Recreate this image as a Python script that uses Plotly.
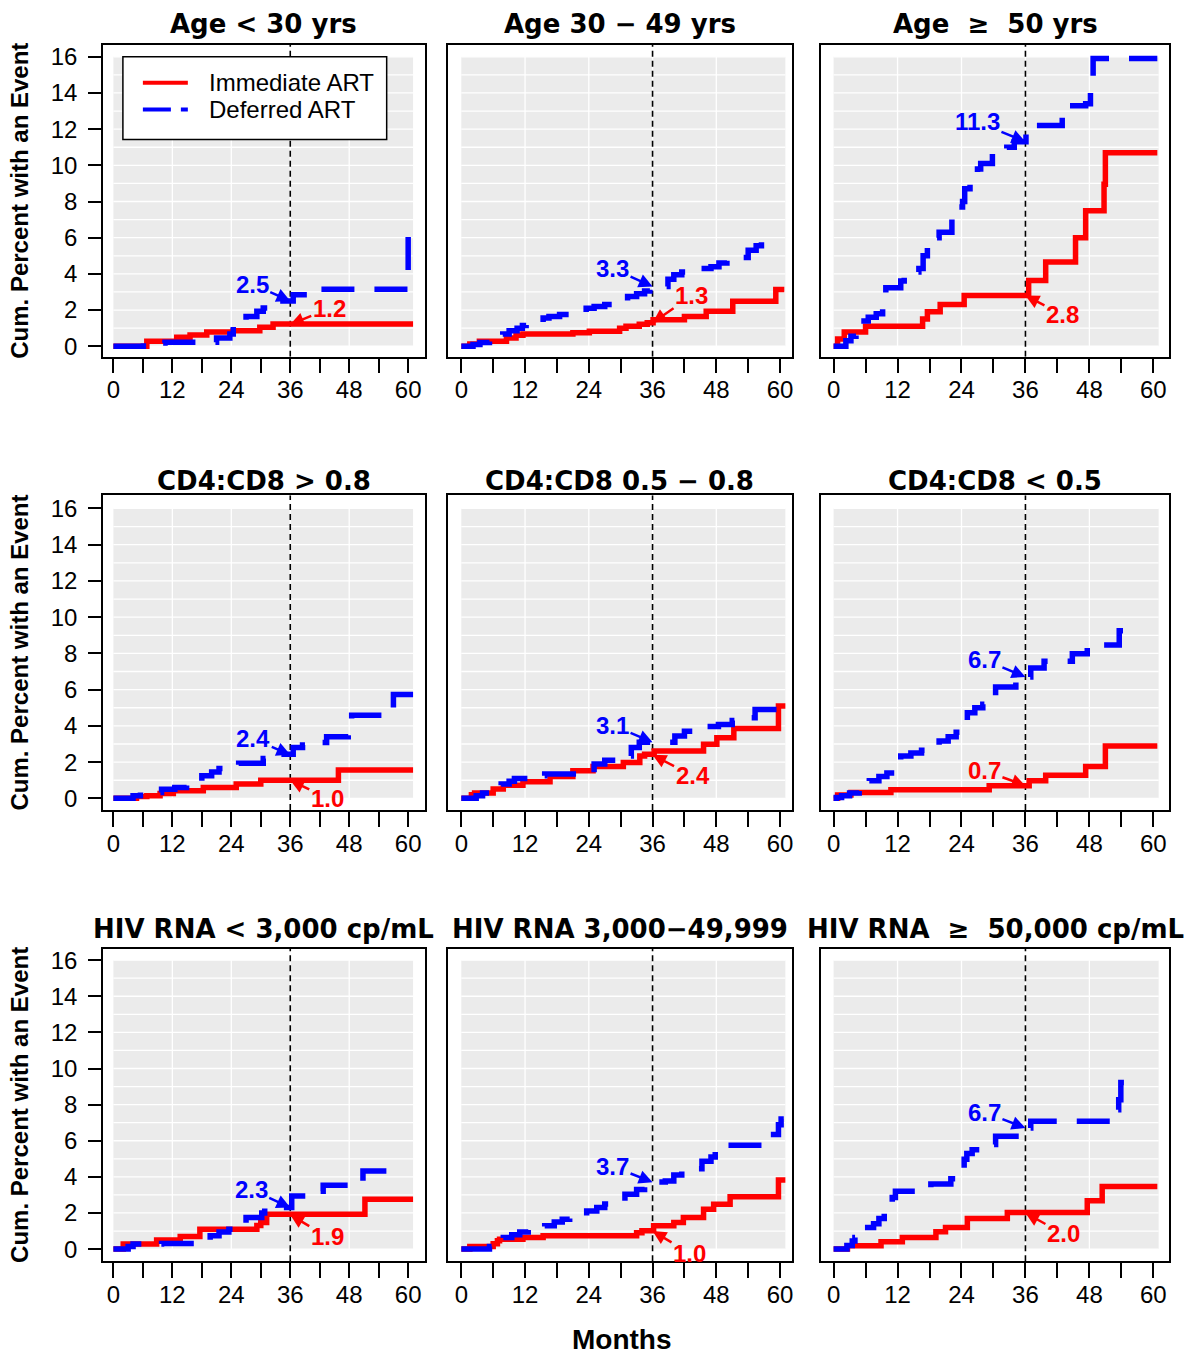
import plotly.graph_objects as go

# ---------------- data ----------------
month_ticks = [0, 6, 12, 18, 24, 30, 36, 42, 48, 54, 60]
month_labels = ["0", "", "12", "", "24", "", "36", "", "48", "", "60"]
pct_ticks = [0, 2, 4, 6, 8, 10, 12, 14, 16]
grid_y = list(range(0, 17))
grid_x = [12, 24, 36, 48]
landmark_month = 36

titles = ["Age < 30 yrs", "Age 30 \u2212 49 yrs", "Age \u00a0\u2265\u00a0 50 yrs",
          "CD4:CD8 > 0.8", "CD4:CD8 0.5 \u2212 0.8", "CD4:CD8 < 0.5",
          "HIV RNA < 3,000 cp/mL", "HIV RNA 3,000\u221249,999", "HIV RNA\u00a0\u00a0\u2265\u00a0\u00a050,000 cp/mL"]
series_names = ["Immediate ART", "Deferred ART"]

# estimate at 36 months (labels)
imm_at36 = [1.2, 1.3, 2.8, 1.0, 2.4, 0.7, 1.9, 1.0, 2.0]
def_at36 = [2.5, 3.3, 11.3, 2.4, 3.1, 6.7, 2.3, 3.7, 6.7]

age_lt30_imm_t = [0, 6.8, 12.9, 15.6, 19.0, 24.4, 29.8, 32.5, 61.0]
age_lt30_imm_v = [0, 0.28, 0.50, 0.62, 0.78, 0.86, 1.05, 1.23, 1.23]
age_lt30_def_t = [0, 6.1, 10.5, 21.0, 23.7, 24.4, 27.0, 29.2, 30.5, 31.5, 36.6, 39.7, 59.3, 60.0, 60.4]
age_lt30_def_v = [0, 0.18, 0.22, 0.46, 0.68, 1.29, 1.65, 1.93, 2.11, 2.50, 2.85, 3.15, 3.95, 6.07, 6.07]

age_30_49_imm_t = [0, 1.6, 3.4, 8.5, 10.3, 11.6, 21.0, 24.1, 29.8, 31.0, 33.5, 35.0, 36.1, 42.0, 46.1, 51.1, 59.2, 60.8]
age_30_49_imm_v = [0, 0.13, 0.28, 0.45, 0.60, 0.68, 0.74, 0.83, 1.00, 1.10, 1.22, 1.30, 1.47, 1.65, 1.93, 2.48, 3.13, 3.13]
age_30_49_def_t = [0, 2.2, 3.5, 5.3, 7.8, 9.0, 10.5, 11.5, 12.2, 15.4, 16.5, 18.5, 20.7, 23.5, 25.0, 27.0, 28.8, 31.3,
                   33.0, 34.5, 35.5, 38.9, 40.0, 41.5, 42.9, 47.0, 48.5, 50.0, 51.7, 54.0, 55.5, 56.5, 57.7, 58.0]
age_30_49_def_v = [0, 0.10, 0.20, 0.30, 0.68, 0.85, 1.00, 1.15, 1.29, 1.56, 1.65, 1.75, 1.84, 2.10, 2.20, 2.30, 2.40, 2.75,
                   2.90, 3.05, 3.30, 3.70, 3.95, 4.10, 4.30, 4.40, 4.60, 4.75, 4.90, 5.30, 5.55, 5.80, 6.15, 6.15]

age_ge50_imm_t = [0, 0.75, 2.0, 6.0, 16.7, 17.6, 20.0, 24.5, 36.6, 39.8, 45.4, 47.3, 50.75, 51.0, 60.75]
age_ge50_imm_v = [0, 0.40, 0.78, 1.10, 1.50, 1.90, 2.30, 2.80, 3.64, 4.66, 6.00, 7.49, 8.96, 10.70, 10.70]
age_ge50_def_t = [0, 2.3, 3.25, 4.2, 5.1, 6.5, 8.0, 9.2, 9.5, 9.8, 12.6, 13.25, 15.0, 16.0, 16.8, 17.6, 19.0, 19.8,
                  22.2, 23.5, 24.2, 24.6, 25.6, 26.0, 27.0, 27.6, 29.8, 32.5, 33.9, 36.1, 42.9, 47.3, 48.2, 48.7, 60.75]
age_ge50_def_v = [0, 0.30, 0.55, 0.80, 1.40, 1.60, 1.80, 2.10, 2.60, 3.23, 3.60, 3.97, 4.10, 4.30, 5.00, 5.80, 6.00, 6.30,
                  7.40, 7.70, 8.00, 8.70, 9.00, 9.50, 9.80, 10.10, 10.70, 11.00, 11.30, 12.20, 13.30, 13.40, 14.60, 15.90, 15.90]

cd48_gt08_imm_t = [0, 4.7, 6.8, 9.5, 12.2, 18.3, 25.0, 30.0, 45.8, 61.0]
cd48_gt08_imm_v = [0, 0.10, 0.15, 0.27, 0.42, 0.60, 0.79, 1.00, 1.56, 1.56]
cd48_gt08_def_t = [0, 4.0, 5.5, 9.8, 12.5, 14.9, 18.0, 20.0, 21.5, 23.0, 25.5, 30.5, 31.9, 36.6, 38.5, 40.3, 43.4, 47.8, 48.5, 57.0, 61.0]
cd48_gt08_def_v = [0, 0.15, 0.33, 0.50, 0.60, 0.73, 1.25, 1.45, 1.65, 1.80, 1.94, 2.20, 2.43, 2.80, 2.95, 3.08, 3.40, 4.00, 4.58, 5.73, 5.73]

cd48_05_08_imm_t = [0, 1.9, 2.5, 6.0, 7.9, 11.6, 16.7, 21.0, 24.8, 30.5, 33.6, 34.5, 36.3, 45.6, 48.1, 51.3, 59.7, 61.0]
cd48_05_08_imm_v = [0, 0.20, 0.29, 0.51, 0.73, 0.92, 1.20, 1.52, 1.76, 1.98, 2.34, 2.44, 2.62, 2.99, 3.35, 3.85, 5.10, 5.10]
cd48_05_08_def_t = [0, 2.8, 4.0, 7.5, 9.0, 10.0, 12.6, 15.7, 25.0, 27.0, 29.2, 32.0, 33.5, 40.2, 42.0, 44.6, 48.4, 51.0, 52.8, 55.3, 59.7, 60.2]
cd48_05_08_def_v = [0, 0.15, 0.29, 0.79, 0.95, 1.10, 1.25, 1.34, 1.89, 2.10, 2.34, 2.80, 3.10, 3.44, 3.70, 3.96, 4.08, 4.30, 4.45, 4.90, 5.60, 5.60]

cd48_lt05_imm_t = [0, 0.75, 3.25, 10.75, 29.2, 36.7, 39.8, 47.3, 51.0, 60.75]
cd48_lt05_imm_v = [0, 0.18, 0.33, 0.48, 0.70, 0.97, 1.28, 1.76, 2.89, 2.89]
cd48_lt05_def_t = [0, 0.5, 1.5, 3.0, 4.8, 6.7, 8.5, 10.0, 11.4, 12.6, 14.5, 16.5, 17.3, 19.8, 21.5, 23.0, 23.9, 25.1,
                   26.5, 28.0, 28.9, 30.4, 34.2, 35.75, 37.0, 39.5, 44.8, 47.6, 53.6, 57.3]
cd48_lt05_def_v = [0, 0.05, 0.15, 0.30, 0.42, 0.97, 1.20, 1.40, 1.60, 2.34, 2.50, 2.65, 2.80, 3.17, 3.40, 3.65, 3.90, 4.72,
                   5.00, 5.20, 5.45, 6.15, 6.47, 6.70, 7.20, 7.56, 7.98, 8.47, 9.25, 9.25]

rna_lt3k_imm_t = [0, 2.0, 8.8, 13.6, 17.6, 29.2, 30.0, 31.2, 51.2, 61.0]
rna_lt3k_imm_v = [0, 0.28, 0.50, 0.70, 1.10, 1.30, 1.47, 1.93, 2.76, 2.76]
rna_lt3k_def_t = [0, 3.0, 4.0, 9.8, 19.7, 21.5, 23.5, 24.7, 27.0, 30.2, 30.8, 36.3, 38.5, 40.0, 42.7, 50.8, 58.3]
rna_lt3k_def_v = [0, 0.15, 0.28, 0.31, 0.74, 0.95, 1.10, 1.25, 1.75, 2.00, 2.30, 2.94, 3.10, 3.20, 3.53, 4.32, 4.32]

rna_3k_50k_imm_t = [0, 1.6, 6.0, 6.8, 7.2, 11.6, 15.4, 33.0, 34.0, 36.2, 40.0, 41.8, 45.6, 47.5, 50.6, 59.7, 61.0]
rna_3k_50k_imm_v = [0, 0.15, 0.30, 0.46, 0.55, 0.64, 0.74, 0.90, 1.01, 1.29, 1.47, 1.75, 2.20, 2.48, 2.90, 3.82, 3.82]
rna_3k_50k_def_t = [0, 5.3, 7.9, 9.5, 11.0, 12.6, 15.7, 17.5, 19.0, 20.4, 23.6, 25.5, 27.0, 28.0, 30.8, 33.0, 34.5, 35.8,
                    38.4, 40.0, 41.5, 42.8, 45.3, 47.0, 47.8, 48.7, 57.0, 59.7, 60.2, 60.7]
rna_3k_50k_def_v = [0, 0.15, 0.64, 0.80, 0.95, 1.10, 1.29, 1.50, 1.65, 1.84, 2.11, 2.30, 2.50, 2.67, 3.03, 3.30, 3.50, 3.71,
                    3.77, 4.10, 4.35, 4.45, 4.87, 5.10, 5.50, 5.75, 6.34, 6.89, 7.20, 7.20]

rna_ge50k_imm_t = [0, 2.6, 8.9, 12.9, 19.2, 21.0, 25.1, 32.6, 47.6, 50.4, 60.75]
rna_ge50k_imm_v = [0, 0.18, 0.40, 0.64, 0.96, 1.20, 1.69, 2.02, 2.67, 3.46, 3.46]
rna_ge50k_def_t = [0, 2.5, 3.5, 4.0, 6.4, 7.5, 8.5, 9.5, 11.0, 11.6, 18.25, 22.0, 23.25, 24.5, 25.0, 26.0, 27.9, 30.4,
                   35.0, 37.0, 52.6, 53.5, 53.9, 57.3]
rna_ge50k_def_v = [0, 0.20, 0.45, 0.64, 1.20, 1.40, 1.70, 2.00, 2.85, 3.20, 3.60, 3.90, 4.00, 4.97, 5.30, 5.50, 5.79, 6.25,
                   6.70, 7.08, 7.72, 8.27, 9.23, 9.23]

imm_series = [(age_lt30_imm_t, age_lt30_imm_v), (age_30_49_imm_t, age_30_49_imm_v), (age_ge50_imm_t, age_ge50_imm_v),
              (cd48_gt08_imm_t, cd48_gt08_imm_v), (cd48_05_08_imm_t, cd48_05_08_imm_v), (cd48_lt05_imm_t, cd48_lt05_imm_v),
              (rna_lt3k_imm_t, rna_lt3k_imm_v), (rna_3k_50k_imm_t, rna_3k_50k_imm_v), (rna_ge50k_imm_t, rna_ge50k_imm_v)]
def_series = [(age_lt30_def_t, age_lt30_def_v), (age_30_49_def_t, age_30_49_def_v), (age_ge50_def_t, age_ge50_def_v),
              (cd48_gt08_def_t, cd48_gt08_def_v), (cd48_05_08_def_t, cd48_05_08_def_v), (cd48_lt05_def_t, cd48_lt05_def_v),
              (rna_lt3k_def_t, rna_lt3k_def_v), (rna_3k_50k_def_t, rna_3k_50k_def_v), (rna_ge50k_def_t, rna_ge50k_def_v)]

# ---------------- layout / style ----------------
W, H = 1200, 1359
RED, BLUE = "#FF0000", "#0000FF"
GRAY = "#EBEBEB"
FONT = "Liberation Sans, Arial, Helvetica, sans-serif"
TFONT = "DejaVu Sans, sans-serif"
DEF_DASH = "33px,20px"

col_px = [(103, 425), (448, 793), (822, 1170)]
row_px = [(43, 356), (495, 811), (950, 1264)]
col_tick_px = [(113.5, 408.5), (461.7, 780.7), (834.3, 1154.3)]
row_tick_px = [(345.5, 55.0), (799.3, 508.3), (1251.7, 961.7)]
title_y_px = [22, 481, 930]

# label offsets (pixels) for the 36-month annotations
def_off = [(-38, -17), (-40, -18), (-48, -20), (-37, -16), (-40, -17), (-41, -17), (-39, -18), (-40, -16), (-41, -16)]
imm_off = [(39, -16), (39, -27), (37, 19), (37, 18), (40, 21), (-41, -15), (37, 22), (37, 22), (38, 21)]

fig = go.Figure()
shapes = []
annotations = []
layout_axes = {}

for i in range(9):
    r, c = divmod(i, 3)
    n = i + 1
    sfx = "" if n == 1 else str(n)
    xname, yname = "x" + sfx, "y" + sfx

    xs = (col_tick_px[c][1] - col_tick_px[c][0]) / 60.0
    xr = [(col_px[c][0] - col_tick_px[c][0]) / xs, (col_px[c][1] - col_tick_px[c][0]) / xs]
    ys = (row_tick_px[r][0] - row_tick_px[r][1]) / 16.0
    yr = [-(row_px[r][1] - row_tick_px[r][0]) / ys, 16 + (row_tick_px[r][1] - row_px[r][0]) / ys]

    layout_axes["xaxis" + sfx] = dict(
        domain=[col_px[c][0] / W, col_px[c][1] / W], range=xr, anchor=yname,
        showline=True, mirror=True, linecolor="black", linewidth=1.5,
        ticks="outside", ticklen=15, tickwidth=1.5, tickcolor="black",
        tickvals=month_ticks, ticktext=month_labels, ticklabelstandoff=-4,
        tickfont=dict(family=FONT, size=24, color="black"),
        showgrid=False, zeroline=False, fixedrange=True)
    ydict = dict(
        domain=[1 - row_px[r][1] / H, 1 - row_px[r][0] / H], range=yr, anchor=xname,
        showline=True, mirror=True, linecolor="black", linewidth=1.5,
        showgrid=False, zeroline=False, fixedrange=True)
    if c == 0:
        ydict.update(ticks="outside", ticklen=13, tickwidth=1.5, tickcolor="black",
                     tickvals=pct_ticks, ticktext=[str(v) for v in pct_ticks], ticklabelstandoff=6,
                     tickfont=dict(family=FONT, size=24, color="black"))
    else:
        ydict.update(ticks="", showticklabels=False)
    layout_axes["yaxis" + sfx] = ydict

    # gray panel + white grid
    shapes.append(dict(type="rect", xref=xname, yref=yname, x0=0, x1=61, y0=0, y1=16,
                       fillcolor=GRAY, line=dict(width=0), layer="below"))
    for gy in grid_y:
        shapes.append(dict(type="line", xref=xname, yref=yname, x0=0, x1=61, y0=gy, y1=gy,
                           line=dict(color="white", width=1.3), layer="below"))
    for gx in grid_x:
        shapes.append(dict(type="line", xref=xname, yref=yname, x0=gx, x1=gx, y0=0, y1=16,
                           line=dict(color="white", width=1.3), layer="below"))
    shapes.append(dict(type="line", xref=xname, yref=yname, x0=landmark_month, x1=landmark_month,
                       y0=yr[0], y1=yr[1], line=dict(color="black", width=1.6, dash="6px,4px"), layer="below"))

    # curves
    it, iv = imm_series[i]
    dt, dv = def_series[i]
    fig.add_trace(go.Scatter(x=it, y=iv, mode="lines", name=series_names[0], showlegend=False,
                             line=dict(color=RED, width=5.5, shape="hv"), xaxis=xname, yaxis=yname))
    fig.add_trace(go.Scatter(x=dt, y=dv, mode="lines", name=series_names[1], showlegend=False,
                             line=dict(color=BLUE, width=5.5, shape="hv", dash=DEF_DASH), xaxis=xname, yaxis=yname))

    # 36-month labels
    for val, col, off in [(def_at36[i], BLUE, def_off[i]), (imm_at36[i], RED, imm_off[i])]:
        annotations.append(dict(x=landmark_month, y=val, xref=xname, yref=yname, text=f"{val:.1f}",
                                showarrow=True, ax=off[0], ay=off[1], arrowhead=2, arrowsize=1.1,
                                arrowwidth=2.5, arrowcolor=col, standoff=0,
                                font=dict(family=FONT, size=24, color=col, weight="bold")))

    # panel title
    annotations.append(dict(x=(col_px[c][0] + col_px[c][1]) / 2 / W, y=1 - title_y_px[r] / H,
                            xref="paper", yref="paper", text=titles[i], showarrow=False,
                            xanchor="center", yanchor="middle",
                            font=dict(family=TFONT, size=26, color="black", weight="bold")))

# y-axis labels (left column)
for r in range(3):
    annotations.append(dict(x=20 / W, y=1 - (row_px[r][0] + row_px[r][1]) / 2 / H, xref="paper", yref="paper",
                            text="Cum. Percent with an Event", textangle=-90, showarrow=False,
                            xanchor="center", yanchor="middle",
                            font=dict(family=FONT, size=24, color="black", weight="bold")))
# x-axis label
annotations.append(dict(x=623 / W, y=1 - 1342 / H, xref="paper", yref="paper", text="Months",
                        showarrow=False, xanchor="center", yanchor="middle",
                        font=dict(family=FONT, size=28, color="black", weight="bold")))

# legend (drawn inside first panel)
shapes.append(dict(type="rect", xref="paper", yref="paper", x0=123 / W, x1=387 / W,
                   y0=1 - 138 / H, y1=1 - 55 / H, fillcolor="white", line=dict(color="black", width=1.5),
                   layer="above"))
shapes.append(dict(type="line", xref="paper", yref="paper", x0=143 / W, x1=188 / W,
                   y0=1 - 81 / H, y1=1 - 81 / H, line=dict(color=RED, width=4), layer="above"))
shapes.append(dict(type="line", xref="paper", yref="paper", x0=143 / W, x1=188 / W,
                   y0=1 - 108 / H, y1=1 - 108 / H, line=dict(color=BLUE, width=4, dash="28px,10px"), layer="above"))
for txt, yy in [(series_names[0], 81), (series_names[1], 108)]:
    annotations.append(dict(x=207 / W, y=1 - yy / H, xref="paper", yref="paper", text=txt, showarrow=False,
                            xanchor="left", yanchor="middle",
                            font=dict(family=FONT, size=24, color="black")))

fig.update_layout(
    width=W, height=H, margin=dict(l=0, r=0, t=0, b=0),
    paper_bgcolor="white", plot_bgcolor="white", showlegend=False,
    shapes=shapes, annotations=annotations, **layout_axes)

fig.write_html("out.html")
